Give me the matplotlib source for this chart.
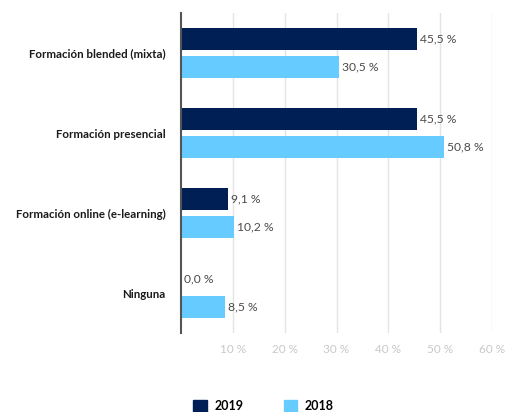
import matplotlib
matplotlib.use("Agg")
import matplotlib.pyplot as plt
from matplotlib.patches import Patch
import numpy as np

categories = ["Formación blended (mixta)", "Formación presencial",
              "Formación online (e-learning)", "Ninguna"]
values_2019 = [45.5, 45.5, 9.1, 0.0]
values_2018 = [30.5, 50.8, 10.2, 8.5]
series_labels = ["2019", "2018"]
xticks = [10, 20, 30, 40, 50, 60]
xtick_labels = ["10 %", "20 %", "30 %", "40 %", "50 %", "60 %"]

c2019 = "#001f54"
c2018 = "#66ccff"

plt.rcParams['font.family'] = ['Lato', 'DejaVu Sans']

fig = plt.figure(figsize=(5.10, 4.12), dpi=100)
ax = fig.add_axes([181/510, 1-333/412, (492-181)/510, 320/412])

y = np.arange(len(categories))
h = 0.275
off = 0.172
ax.barh(y - off, values_2019, height=h, color=c2019, zorder=3)
ax.barh(y + off, values_2018, height=h, color=c2018, zorder=3)

def fmt(v):
    return f"{v:.1f}".replace(".", ",") + " %"

for yi, v in zip(y, values_2019):
    ax.text(v + 0.6, yi - off, fmt(v), va="center", ha="left",
            fontsize=8.7, color="#4a4a4a", zorder=4)
for yi, v in zip(y, values_2018):
    ax.text(v + 0.6, yi + off, fmt(v), va="center", ha="left",
            fontsize=8.7, color="#4a4a4a", zorder=4)

ax.set_xlim(0, 60)
ax.set_ylim(len(categories) - 0.5, -0.5)
ax.set_xticks(xticks)
ax.set_xticklabels(xtick_labels, color="#c8c8c8", fontsize=8.5)
ax.set_yticks(y)
ax.set_yticklabels(categories, fontsize=8.3, fontweight="bold", color="#1a1a1a")
ax.tick_params(axis="both", length=0)
ax.tick_params(axis="x", pad=8)
ax.tick_params(axis="y", pad=11)
ax.xaxis.grid(True, color="#e4e4e4", linewidth=1, zorder=0)
ax.set_axisbelow(True)
for s in ["top", "right", "bottom"]:
    ax.spines[s].set_visible(False)
ax.spines["left"].set_color("#555555")
ax.spines["left"].set_linewidth(1.5)
ax.spines["left"].set_zorder(5)

handles = [Patch(color=c2019, label=series_labels[0]),
           Patch(color=c2018, label=series_labels[1])]
fig.legend(handles=handles, loc="lower left", bbox_to_anchor=(182/510, -11/412),
           ncol=2, frameon=False, handlelength=1.1, handleheight=1.1,
           columnspacing=3.2, handletextpad=0.6, prop={"weight": "bold", "size": 9})

fig.savefig("out.png", dpi=100)
